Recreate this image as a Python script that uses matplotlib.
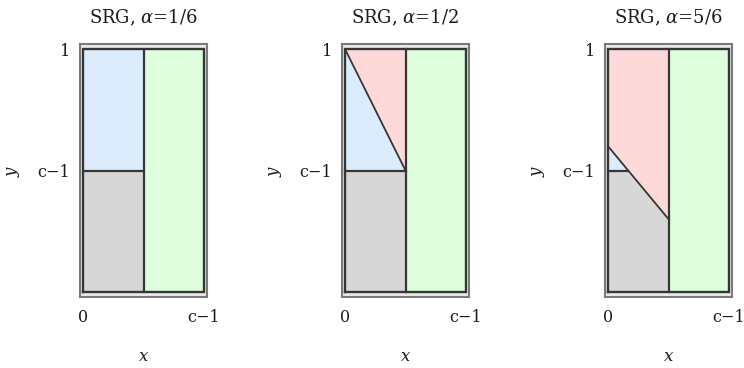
import numpy as np
import matplotlib
matplotlib.use("Agg")
import matplotlib.pyplot as plt

# ---- data (normalised: x in [0, c-1] -> [0,1], y in [0,1], c-1 level -> 0.5) ----
alpha_labels = ["1/6", "1/2", "5/6"]
x_split = 0.5          # vertical boundary (x position)
y_level = 0.5          # horizontal level c-1
diag_start = [None, 1.0, 0.6]   # diagonal y at x = 0
diag_end = [None, 0.5, 0.3]     # diagonal y at x = x_split
xtick_labels = ["0", "c\u22121"]
ytick_labels = ["c\u22121", "1"]

# ---- style ----
plt.rcParams["font.family"] = ["DejaVu Serif"]
plt.rcParams["mathtext.fontset"] = "dejavuserif"
C_BLUE = "#dcecfd"
C_GREEN = "#defedd"
C_GRAY = "#d7d7d7"
C_RED = "#fed9d9"
C_EDGE = "#363636"
TXT = "#1c1c1c"

fig = plt.figure(figsize=(7.44, 3.68), dpi=100)
W, H = 744, 368
lefts_px = [80, 342, 605]
frame_w, top_px, bot_px = 127, 44, 297

padx, pady = 0.025, 0.021
for i, lab in enumerate(alpha_labels):
    ax = fig.add_axes([lefts_px[i] / W, (H - bot_px) / H, frame_w / W, (bot_px - top_px) / H])
    ax.set_xlim(-padx, 1 + padx)
    ax.set_ylim(-pady, 1 + pady)
    ax.set_facecolor("#ebebeb")
    for sp in ax.spines.values():
        sp.set_color("#7a7a7a")
        sp.set_linewidth(1.5)

    # right (green) part
    ax.fill_between([x_split, 1], 0, 1, color=C_GREEN, lw=0)

    xs = np.linspace(0, x_split, 600)
    if diag_start[i] is None:
        line = np.full_like(xs, np.inf)
    else:
        s, e = diag_start[i], diag_end[i]
        line = s + (e - s) / x_split * xs
    gray_top = np.minimum(line, y_level)
    blue_top = np.clip(line, y_level, 1)
    red_bot = np.clip(line, 0, 1)
    ax.fill_between(xs, 0, gray_top, color=C_GRAY, lw=0)
    ax.fill_between(xs, y_level, blue_top, where=line > y_level, color=C_BLUE, lw=0, interpolate=True)
    ax.fill_between(xs, red_bot, 1, where=line < 1, color=C_RED, lw=0, interpolate=True)

    # boundaries
    ax.plot([0, 1, 1, 0, 0], [0, 0, 1, 1, 0], color=C_EDGE, lw=1.7, solid_joinstyle="miter")
    ax.plot([x_split, x_split], [0, 1], color=C_EDGE, lw=1.6)
    if diag_start[i] is None:
        x_end = x_split
    else:
        s, e = diag_start[i], diag_end[i]
        x_end = min(x_split, (s - y_level) * x_split / (s - e))
        ax.plot([0, x_split], [s, e], color=C_EDGE, lw=1.3)
    ax.plot([0, x_end], [y_level, y_level], color=C_EDGE, lw=1.6)

    ax.set_xticks([0, 1])
    ax.set_xticklabels(xtick_labels)
    ax.set_yticks([y_level, 1])
    ax.set_yticklabels(ytick_labels)
    ax.tick_params(axis="x", length=0, pad=9, labelsize=11.5, colors=TXT)
    ax.tick_params(axis="y", length=0, pad=7, labelsize=11.5, colors=TXT)

    ax.set_title("SRG, $\\alpha$=" + lab, fontsize=13, color=TXT, y=1.05)
    ax.set_xlabel("$x$", fontsize=12, color=TXT)
    ax.xaxis.set_label_coords(0.5, -0.2)
    ax.set_ylabel("$y$", fontsize=12, color=TXT)
    ax.yaxis.set_label_coords(-0.46, 0.5)

fig.savefig("out.png", dpi=100, facecolor="white")
